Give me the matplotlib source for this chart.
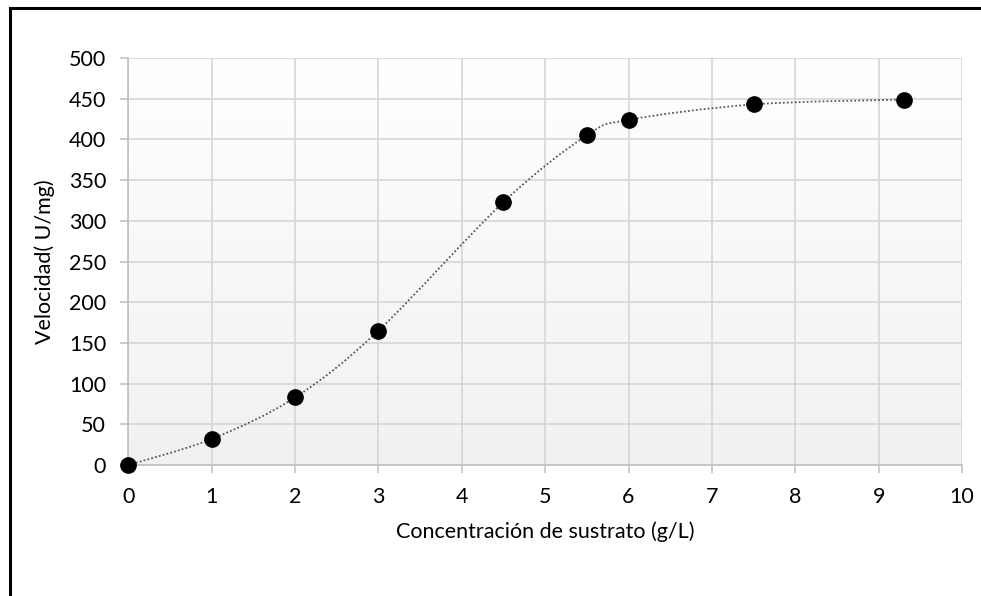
import numpy as np
import matplotlib
matplotlib.use("Agg")
import matplotlib.pyplot as plt
from matplotlib.path import Path
from matplotlib.patches import PathPatch
from matplotlib.colors import LinearSegmentedColormap

# Substrate concentration vs. enzyme velocity
concentracion = [0, 1, 2, 3, 4.5, 5.5, 6, 7.5, 9.3]
velocidad = [0, 32, 83, 165, 323, 405, 424, 443, 449]

x_ticks = list(range(0, 11))
y_ticks = list(range(0, 501, 50))

plt.rcParams['font.family'] = ['Lato', 'DejaVu Sans']

fig = plt.figure(figsize=(9.81, 5.96), dpi=100)
W, H = 981, 596
ax = fig.add_axes([128.3 / W, 1 - 465 / H, (962 - 128.3) / W, (465 - 58) / H])

# Frame lines (top and left only)
fig.add_artist(plt.Line2D([10 / W, 1], [1 - 8 / H, 1 - 8 / H], color='black', lw=2.2,
                          transform=fig.transFigure, solid_capstyle='projecting'))
fig.add_artist(plt.Line2D([10 / W, 10 / W], [0, 1 - 8 / H], color='black', lw=2.2,
                          transform=fig.transFigure, solid_capstyle='projecting'))

ax.set_xlim(0, 10)
ax.set_ylim(0, 500)

# Plot area gradient: white at top, light grey at bottom
grad = np.linspace(1, 0, 256).reshape(-1, 1)
cmap = LinearSegmentedColormap.from_list('bg', ['#f1f1f1', '#ffffff'])
ax.imshow(grad, extent=[0, 10, 0, 500], aspect='auto', cmap=cmap, zorder=0,
          origin='upper', vmin=0, vmax=1)

ax.set_xticks(x_ticks)
ax.set_yticks(y_ticks)
ax.grid(True, color='#d6d6d6', lw=1.2, zorder=1)
ax.set_axisbelow(True)

for side in ['top', 'right']:
    ax.spines[side].set_visible(False)
for side in ['left', 'bottom']:
    ax.spines[side].set_color('#bfbfbf')
    ax.spines[side].set_linewidth(1.2)

ax.tick_params(axis='both', direction='out', length=6, width=1.1, color='#bfbfbf',
               labelsize=15.5, labelcolor='black')
ax.tick_params(axis='x', pad=10)
ax.tick_params(axis='y', pad=10)

# Smoothed connecting line (Catmull-Rom as cubic Bezier segments)
pts = np.column_stack([concentracion, velocidad]).astype(float)
n = len(pts)
verts = [tuple(pts[0])]
codes = [Path.MOVETO]
for i in range(n - 1):
    p0 = pts[max(i - 1, 0)]
    p1 = pts[i]
    p2 = pts[i + 1]
    p3 = pts[min(i + 2, n - 1)]
    c1 = p1 + (p2 - p0) / 6.0
    c2 = p2 - (p3 - p1) / 6.0
    verts += [tuple(c1), tuple(c2), tuple(p2)]
    codes += [Path.CURVE4, Path.CURVE4, Path.CURVE4]
curve = PathPatch(Path(verts, codes), fill=False, edgecolor='#595959', lw=1.3,
                  linestyle=(0, (1, 1.2)), zorder=3)
ax.add_patch(curve)

ax.plot(concentracion, velocidad, 'o', color='black', markersize=11, zorder=4, clip_on=False)

ax.set_xlabel('Concentración de sustrato (g/L)', fontsize=15.5, labelpad=10)
ax.set_ylabel('Velocidad( U/mg)', fontsize=15.5, labelpad=10)

fig.savefig('out.png', dpi=100, facecolor='white')
